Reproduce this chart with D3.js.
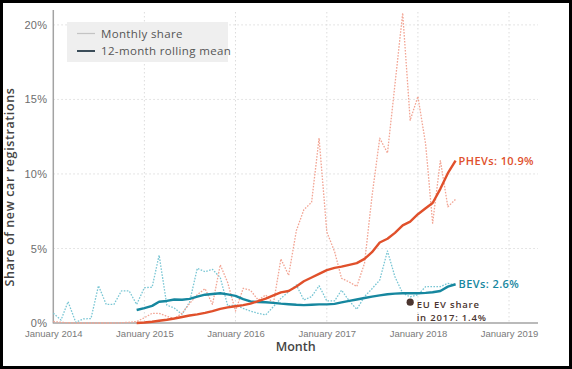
<!DOCTYPE html>
<html>
<head>
<meta charset="utf-8">
<script src="https://cdn.jsdelivr.net/npm/d3@7"></script>
<style>
  html, body { margin: 0; padding: 0; background: #000; }
  svg { display: block; font-family: "Open Sans", sans-serif; }
</style>
</head>
<body>
<svg id="chart" width="572" height="369"></svg>
<script>
// monthly series start Jan 2014, rolling means start Dec 2014
var firstMonth = "2014-01";
var rollingFirstMonth = "2014-12";

var bevMonthly = [0.65, 0.2, 1.43, 0.05, 0.27, 0.3, 2.5, 1.25, 1.25, 2.15,
  2.15, 1.25, 2.37, 2.4, 4.55, 1.2, 1.0, 0.58, 1.4, 3.67,
  3.44, 3.6, 3.05, 1.15, 1.2, 0.98, 0.8, 0.65, 0.54, 1.1,
  1.65, 2.1, 2.55, 1.54, 1.77, 2.5, 1.48, 1.48, 2.2, 1.48,
  0.92, 1.77, 2.3, 2.88, 4.83, 3.1, 2.0, 1.75, 1.9, 2.44,
  2.44, 2.44, 2.66, 2.55];

var phevMonthly = [0.1, 0.05, 0.02, 0, 0, 0, 0, 0, 0, 0.02,
  0.05, 0.1, 0.35, 0.65, 0.65, 0.45, 0.3, 0.65, 1.3, 1.9,
  2.3, 1.25, 3.9, 2.7, 0.8, 2.33, 2.2, 1.54, 1.88, 1.3,
  4.3, 3.2, 6.2, 7.6, 8.1, 12.4, 6.1, 4.8, 3.0, 2.75,
  2.45, 4.0, 8.5, 12.4, 11.4, 16.0, 20.8, 13.6, 15.2, 12.0,
  6.7, 10.9, 7.8, 8.3];

var bevRolling = [0.87, 1.0, 1.15, 1.43, 1.48, 1.58, 1.56, 1.62, 1.77, 1.9,
  1.95, 2.0, 1.92, 1.82, 1.6, 1.45, 1.4, 1.39, 1.35, 1.3,
  1.26, 1.22, 1.2, 1.22, 1.25, 1.25, 1.28, 1.38, 1.48, 1.58,
  1.68, 1.77, 1.85, 1.93, 1.97, 2.0, 2.0, 2.0, 2.02, 2.06,
  2.15, 2.44, 2.6];

var phevRolling = [0, 0.03, 0.08, 0.15, 0.22, 0.3, 0.4, 0.5, 0.58, 0.68,
  0.8, 0.95, 1.05, 1.12, 1.2, 1.3, 1.47, 1.63, 1.85, 2.05,
  2.15, 2.45, 2.8, 3.05, 3.3, 3.55, 3.7, 3.78, 3.9, 4.02,
  4.3, 4.75, 5.4, 5.65, 6.05, 6.55, 6.8, 7.3, 7.7, 8.05,
  9.0, 10.05, 10.9];

var yTicks = [0, 5, 10, 15, 20];
var xTickYears = [2014, 2015, 2016, 2017, 2018, 2019];
var legendLabels = ["Monthly share", "12-month rolling mean"];
var euMonth = "2017-12";
var euValue = 1.4;
var euLabel = ["EU EV share", "in 2017: 1.4%"];

var colors = {
  bevLight: "#79c6d4",
  bev: "#16879f",
  phevLight: "#f2a493",
  phev: "#e0502b",
  grid: "#dcdcdc",
  axis: "#a3a3a3",
  text: "#444",
  eu: "#4b3530"
};

(function drawChart() {
  var svg = d3.select("#chart");
  var parseMonth = d3.timeParse("%Y-%m");

  // white card inside the black frame
  svg.append("rect")
    .attr("x", 3).attr("y", 3)
    .attr("width", 566).attr("height", 363)
    .attr("fill", "#fff");

  var x = d3.scaleTime()
    .domain([new Date(2014, 0, 1), new Date(2019, 0, 1)])
    .range([53.3, 509]);
  var y = d3.scaleLinear()
    .domain([0, 21])
    .range([323, 10]);
  var xEnd = 538;

  function toPoints(values, start) {
    var d0 = parseMonth(start);
    return values.map(function(v, i) {
      return { date: d3.timeMonth.offset(d0, i), value: v };
    });
  }

  // grid
  var grid = svg.append("g");
  grid.selectAll("line.h")
    .data(yTicks.slice(1))
    .enter().append("line")
      .attr("x1", x.range()[0]).attr("x2", xEnd)
      .attr("y1", function(d) { return y(d); })
      .attr("y2", function(d) { return y(d); })
      .attr("stroke", colors.grid)
      .attr("stroke-dasharray", "1.5,2.5");
  grid.selectAll("line.v")
    .data(xTickYears.slice(1))
    .enter().append("line")
      .attr("x1", function(d) { return x(new Date(d, 0, 1)); })
      .attr("x2", function(d) { return x(new Date(d, 0, 1)); })
      .attr("y1", 12).attr("y2", y(0))
      .attr("stroke", colors.grid)
      .attr("stroke-dasharray", "1.5,2.5");

  // axes
  var yAxis = svg.append("g")
    .attr("transform", "translate(" + x.range()[0] + ",0)")
    .call(d3.axisLeft(y).tickValues(yTicks)
      .tickFormat(function(d) { return d + "%"; })
      .tickSize(0).tickPadding(6));
  yAxis.select(".domain").remove();
  yAxis.selectAll("text")
    .attr("fill", "#6d6d6d")
    .style("font-size", "11px")
    .style("letter-spacing", "0.3px");

  var xAxis = svg.append("g")
    .attr("transform", "translate(0," + y(0) + ")")
    .call(d3.axisBottom(x)
      .tickValues(xTickYears.map(function(yr) { return new Date(yr, 0, 1); }))
      .tickFormat(d3.timeFormat("January %Y"))
      .tickSize(0).tickPadding(7));
  xAxis.select(".domain").remove();
  xAxis.selectAll("text")
    .attr("fill", "#7a7a7a")
    .style("font-size", "9.5px");

  svg.append("line")
    .attr("x1", x.range()[0]).attr("x2", x.range()[0])
    .attr("y1", 10).attr("y2", y(0) + 0.5)
    .attr("stroke", colors.axis).attr("stroke-width", 1.5);
  svg.append("line")
    .attr("x1", x.range()[0]).attr("x2", xEnd)
    .attr("y1", y(0)).attr("y2", y(0))
    .attr("stroke", colors.axis).attr("stroke-width", 1.5);

  // axis titles
  svg.append("text")
    .attr("transform", "translate(14," + 187 + ") rotate(-90)")
    .attr("text-anchor", "middle")
    .attr("fill", colors.text)
    .style("font-size", "12.5px")
    .style("font-weight", 600)
    .style("letter-spacing", "0.6px")
    .text("Share of new car registrations");
  svg.append("text")
    .attr("x", (x.range()[0] + xEnd) / 2)
    .attr("y", 351)
    .attr("text-anchor", "middle")
    .attr("fill", colors.text)
    .style("font-size", "12.5px")
    .style("font-weight", 600)
    .text("Month");

  var line = d3.line()
    .x(function(d) { return x(d.date); })
    .y(function(d) { return y(d.value); });

  var series = [
    { data: toPoints(bevMonthly, firstMonth), color: colors.bevLight, width: 1.3, dash: "1.6,1.4" },
    { data: toPoints(phevMonthly, firstMonth), color: colors.phevLight, width: 1.3, dash: "1.6,1.4" },
    { data: toPoints(bevRolling, rollingFirstMonth), color: colors.bev, width: 2.4, dash: null },
    { data: toPoints(phevRolling, rollingFirstMonth), color: colors.phev, width: 2.4, dash: null }
  ];

  svg.append("g").selectAll("path")
    .data(series)
    .enter().append("path")
      .attr("d", function(d) { return line(d.data); })
      .attr("fill", "none")
      .attr("stroke", function(d) { return d.color; })
      .attr("stroke-width", function(d) { return d.width; })
      .attr("stroke-linejoin", "round")
      .attr("stroke-dasharray", function(d) { return d.dash; });

  // end labels
  var phevLast = series[3].data[series[3].data.length - 1];
  var bevLast = series[2].data[series[2].data.length - 1];
  svg.append("text")
    .attr("x", x(phevLast.date) + 3)
    .attr("y", y(phevLast.value))
    .attr("dy", "0.38em")
    .attr("fill", colors.phev)
    .style("font-size", "11px")
    .style("font-weight", 600)
    .style("letter-spacing", "0.4px")
    .text("PHEVs: " + phevLast.value + "%");
  svg.append("text")
    .attr("x", x(bevLast.date) + 3)
    .attr("y", y(bevLast.value))
    .attr("dy", "0.38em")
    .attr("fill", colors.bev)
    .style("font-size", "11px")
    .style("font-weight", 600)
    .style("letter-spacing", "0.4px")
    .text("BEVs: " + bevLast.value + "%");

  // EU marker, label as two separate lines
  var euX = x(parseMonth(euMonth));
  var euY = y(euValue);
  svg.append("circle")
    .attr("cx", euX).attr("cy", euY).attr("r", 3.6)
    .attr("fill", colors.eu);
  svg.append("g").selectAll("text")
    .data(euLabel)
    .enter().append("text")
      .attr("x", euX + 6.5)
      .attr("y", function(d, i) { return euY + 5.5 + i * 13; })
      .attr("fill", colors.eu)
      .style("font-size", "9.5px")
      .style("font-weight", 600)
      .style("letter-spacing", "0.8px")
      .text(function(d) { return d; });

  // legend
  var legend = svg.append("g").attr("transform", "translate(67,22)");
  legend.append("rect")
    .attr("width", 161).attr("height", 40)
    .attr("fill", "#efefef");
  var legendColors = ["#c4c4c4", "#3b4d59"];
  var legendWidths = [1.2, 2];
  var item = legend.selectAll("g.item")
    .data(legendLabels)
    .enter().append("g")
      .attr("transform", function(d, i) { return "translate(0," + (11.5 + i * 17.5) + ")"; });
  item.append("line")
    .attr("x1", 10).attr("x2", 28)
    .attr("stroke", function(d, i) { return legendColors[i]; })
    .attr("stroke-width", function(d, i) { return legendWidths[i]; });
  item.append("text")
    .attr("x", 34)
    .attr("dy", "0.35em")
    .attr("fill", "#555")
    .style("font-size", "11.5px")
    .style("letter-spacing", "0.35px")
    .text(function(d) { return d; });
})();
</script>
</body>
</html>
